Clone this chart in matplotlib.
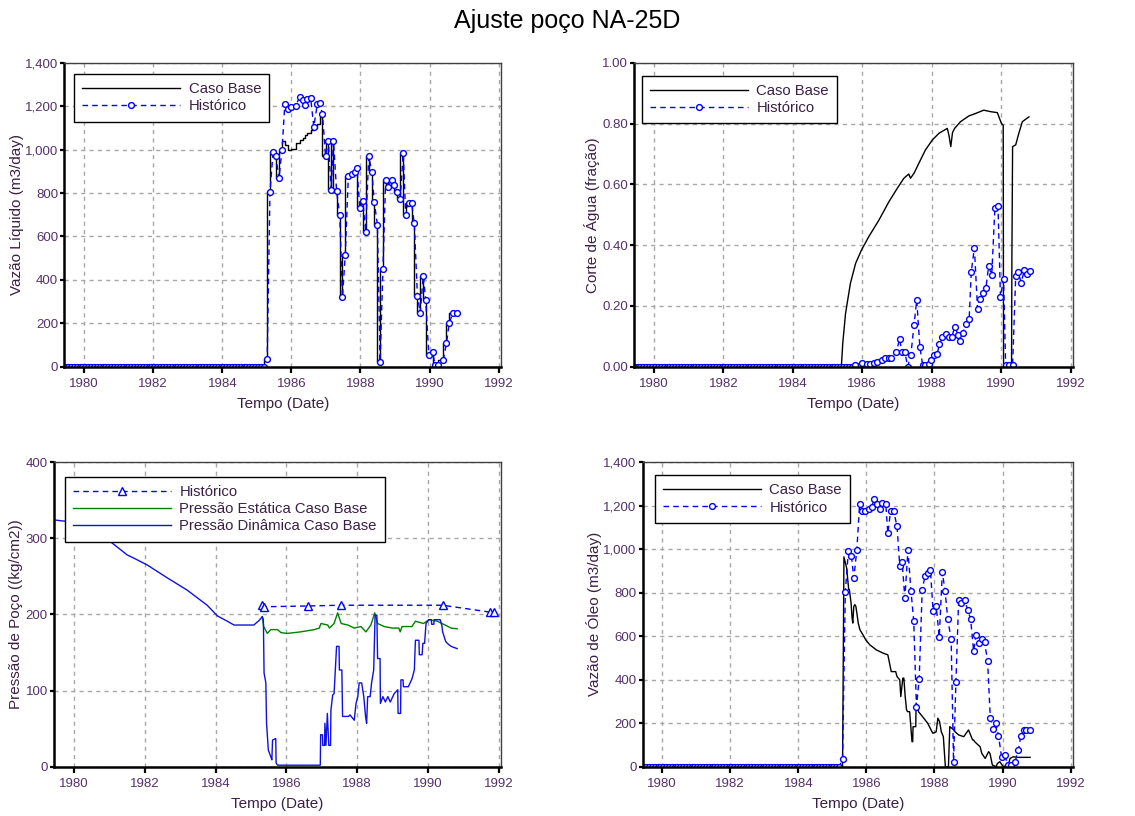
import numpy as np
import matplotlib.pyplot as plt
from matplotlib.ticker import FuncFormatter, MultipleLocator

plt.rcParams['font.family'] = ['Liberation Sans', 'DejaVu Sans']

# periodo sem producao (poco fechado)
shut_t = np.arange(1979.45, 1985.26, 1 / 12)
shut_v = np.zeros(len(shut_t))

# Vazao de liquido (m3/day)
liq_t = [1985.30, 1985.38, 1985.47, 1985.55, 1985.64, 1985.73, 1985.81, 1985.90, 1986.00, 1986.12,
         1986.25, 1986.34, 1986.39, 1986.46, 1986.56, 1986.65, 1986.75, 1986.82, 1986.90, 1986.99,
         1987.07, 1987.15, 1987.22, 1987.31, 1987.40, 1987.48, 1987.56, 1987.65, 1987.75, 1987.83,
         1987.90, 1987.98, 1988.07, 1988.15, 1988.24, 1988.33, 1988.40, 1988.49, 1988.57, 1988.65,
         1988.73, 1988.81, 1988.90, 1988.98, 1989.07, 1989.15, 1989.24, 1989.31, 1989.40, 1989.48,
         1989.56, 1989.65, 1989.73, 1989.82, 1989.89, 1989.98, 1990.09, 1990.16, 1990.26, 1990.40,
         1990.49, 1990.57, 1990.67, 1990.81]
liq_hist = [34, 803, 990, 970, 867, 1000, 1208, 1185, 1194, 1202,
            1243, 1228, 1205, 1233, 1236, 1105, 1208, 1216, 1164, 970,
            1041, 813, 1041, 807, 700, 319, 513, 878, 887, 895,
            917, 729, 763, 622, 970, 897, 760, 655, 23, 450,
            860, 829, 860, 837, 806, 771, 983, 699, 755, 752,
            660, 327, 249, 419, 307, 54, 69, 8, 8, 31,
            107, 200, 246, 246]
liq_base = [34, 803, 990, 970, 867, 1000, 1040, 1020, 1000, 1005,
            1030, 1045, 1055, 1065, 1075, 1090, 1100, 1120, 1150, 970,
            1041, 813, 1041, 807, 700, 319, 513, 878, 887, 895,
            917, 729, 763, 622, 970, 897, 760, 655, 23, 450,
            860, 829, 860, 837, 806, 771, 983, 699, 755, 752,
            660, 327, 249, 419, 307, 54, 69, 8, 8, 31,
            107, 200, 246, 246]

# Corte de agua (fracao)
wc_zero_t = np.arange(1979.45, 1985.72, 1 / 12)
wc_t = [1985.78, 1986.00, 1986.13, 1986.22, 1986.34, 1986.44, 1986.56, 1986.67, 1986.76, 1986.83,
        1986.98, 1987.08, 1987.14, 1987.23, 1987.31, 1987.40, 1987.49, 1987.57, 1987.66, 1987.74,
        1987.82, 1987.91, 1987.97, 1988.07, 1988.16, 1988.22, 1988.31, 1988.40, 1988.49, 1988.58,
        1988.67, 1988.76, 1988.83, 1988.89, 1989.00, 1989.08, 1989.14, 1989.23, 1989.32, 1989.38,
        1989.47, 1989.56, 1989.64, 1989.73, 1989.82, 1989.91, 1989.98, 1990.07, 1990.13, 1990.22,
        1990.33, 1990.42, 1990.49, 1990.58, 1990.67, 1990.74, 1990.83]
wc_hist = [0.004, 0.013, 0.010, 0.010, 0.013, 0.017, 0.021, 0.028, 0.028, 0.028,
           0.047, 0.092, 0.047, 0.047, 0.0, 0.038, 0.136, 0.219, 0.066, 0.006,
           0.006, 0.010, 0.021, 0.039, 0.041, 0.074, 0.097, 0.108, 0.099, 0.099,
           0.132, 0.104, 0.086, 0.110, 0.139, 0.158, 0.312, 0.391, 0.191, 0.224,
           0.241, 0.258, 0.330, 0.302, 0.521, 0.530, 0.230, 0.288, 0.006, 0.006,
           0.006, 0.299, 0.310, 0.277, 0.319, 0.304, 0.316]
wc_base_t = [1979.43, 1985.40, 1985.44, 1985.52, 1985.66, 1985.81, 1985.98, 1986.19, 1986.48, 1986.77,
             1987.01, 1987.20, 1987.34, 1987.39, 1987.49, 1987.63, 1987.82, 1988.02, 1988.21, 1988.45,
             1988.50, 1988.55, 1988.60, 1988.66, 1988.83, 1989.07, 1989.26, 1989.50, 1989.70, 1989.89,
             1990.01, 1990.06, 1990.07, 1990.30, 1990.31, 1990.33, 1990.42, 1990.51, 1990.61, 1990.80]
wc_base = [0.0, 0.0, 0.077, 0.175, 0.274, 0.340, 0.384, 0.428, 0.482, 0.543,
           0.587, 0.620, 0.634, 0.620, 0.636, 0.669, 0.713, 0.746, 0.768, 0.784,
           0.760, 0.724, 0.770, 0.784, 0.806, 0.825, 0.833, 0.844, 0.839, 0.836,
           0.800, 0.795, 0.0, 0.0, 0.362, 0.724, 0.730, 0.768, 0.806, 0.822]

# Pressao de poco (kg/cm2)
p_hist_t = [1985.30, 1985.37, 1986.60, 1987.54, 1990.42, 1991.75, 1991.87]
p_hist = [212, 210, 211, 212, 212, 203, 203]
p_est_t = [1985.32, 1985.36, 1985.46, 1985.56, 1985.75, 1985.85, 1986.03, 1986.40, 1986.79, 1986.93,
           1986.98, 1987.17, 1987.22, 1987.35, 1987.45, 1987.55, 1987.74, 1987.92, 1988.11, 1988.25,
           1988.39, 1988.50, 1988.58, 1988.77, 1989.00, 1989.18, 1989.22, 1989.27, 1989.55, 1989.65,
           1989.88, 1990.03, 1990.27, 1990.49, 1990.66, 1990.83]
p_est = [197, 184, 175, 180, 180, 176, 175, 177, 180, 182,
         188, 186, 182, 188, 202, 188, 186, 182, 184, 177,
         186, 202, 188, 184, 182, 182, 177, 184, 184, 191,
         188, 193, 191, 186, 182, 181]
p_din_t = [1979.43, 1979.79, 1980.90, 1981.20, 1981.50, 1981.68, 1982.06, 1982.63, 1983.19, 1983.76,
           1984.05, 1984.33, 1984.52, 1985.08, 1985.23, 1985.32, 1985.35, 1985.37, 1985.42, 1985.44,
           1985.49, 1985.56, 1985.59, 1985.61, 1985.70, 1985.71, 1985.75, 1986.96, 1986.97, 1987.02,
           1987.03, 1987.08, 1987.09, 1987.12, 1987.16, 1987.20, 1987.25, 1987.26, 1987.31, 1987.35,
           1987.42, 1987.49, 1987.50, 1987.57, 1987.59, 1987.76, 1987.80, 1987.92, 1987.97, 1988.02,
           1988.06, 1988.13, 1988.19, 1988.24, 1988.27, 1988.30, 1988.37, 1988.41, 1988.47, 1988.51,
           1988.56, 1988.58, 1988.65, 1988.66, 1988.73, 1988.80, 1988.87, 1988.94, 1989.05, 1989.15,
           1989.16, 1989.23, 1989.24, 1989.30, 1989.31, 1989.45, 1989.55, 1989.62, 1989.65, 1989.75,
           1989.76, 1989.84, 1989.86, 1989.91, 1989.95, 1990.03, 1990.10, 1990.11, 1990.17, 1990.18,
           1990.35, 1990.40, 1990.42, 1990.51, 1990.60, 1990.66, 1990.83]
p_din = [324, 322, 300, 289, 278, 274, 265, 248, 232, 212,
         198, 191, 186, 186, 192, 197, 193, 123, 110, 57,
         22, 13, 9, 35, 37, 5, 2, 2, 42, 42,
         28, 28, 57, 28, 70, 28, 28, 74, 94, 96,
         158, 158, 127, 127, 66, 66, 68, 61, 83, 92,
         110, 110, 92, 66, 57, 92, 92, 110, 127, 199,
         199, 142, 142, 83, 92, 85, 92, 85, 96, 101,
         70, 70, 114, 114, 105, 105, 115, 127, 166, 166,
         147, 147, 162, 162, 188, 193, 193, 187, 187, 193,
         193, 185, 177, 164, 160, 158, 155]

# Vazao de oleo (m3/day)
oil_t = [1985.30, 1985.38, 1985.47, 1985.56, 1985.63, 1985.72, 1985.80, 1985.88, 1985.97, 1986.08,
         1986.15, 1986.23, 1986.31, 1986.40, 1986.46, 1986.57, 1986.63, 1986.71, 1986.80, 1986.90,
         1986.98, 1987.05, 1987.13, 1987.22, 1987.31, 1987.39, 1987.47, 1987.55, 1987.64, 1987.72,
         1987.80, 1987.88, 1987.96, 1988.05, 1988.14, 1988.23, 1988.31, 1988.39, 1988.49, 1988.56,
         1988.63, 1988.71, 1988.79, 1988.89, 1988.98, 1989.06, 1989.15, 1989.22, 1989.30, 1989.39,
         1989.47, 1989.56, 1989.64, 1989.73, 1989.80, 1989.88, 1989.97, 1990.07, 1990.15, 1990.24,
         1990.37, 1990.46, 1990.54, 1990.62, 1990.70, 1990.81]
oil_hist = [34, 801, 990, 970, 866, 998, 1205, 1174, 1174, 1185,
            1194, 1228, 1205, 1182, 1210, 1205, 1072, 1174, 1174, 1105,
            921, 939, 775, 995, 806, 671, 276, 402, 814, 875,
            890, 906, 714, 737, 596, 893, 809, 678, 586, 23,
            388, 767, 752, 764, 718, 680, 531, 603, 568, 588,
            571, 488, 223, 173, 203, 143, 46, 54, 8, 8,
            23, 77, 141, 169, 169, 169]
oil_base_t = [1979.43, 1985.30, 1985.34, 1985.42, 1985.48, 1985.50, 1985.55, 1985.58, 1985.60, 1985.63,
              1985.66, 1985.69, 1985.72, 1985.76, 1985.81, 1985.90, 1985.98, 1986.10, 1986.29, 1986.49,
              1986.63, 1986.73, 1986.86, 1986.90, 1986.98, 1987.01, 1987.07, 1987.10, 1987.14, 1987.18,
              1987.21, 1987.27, 1987.34, 1987.36, 1987.37, 1987.45, 1987.46, 1987.51, 1987.53, 1987.65,
              1987.80, 1987.90, 1987.95, 1988.05, 1988.10, 1988.15, 1988.20, 1988.26, 1988.32, 1988.41,
              1988.45, 1988.57, 1988.60, 1988.71, 1988.86, 1989.00, 1989.12, 1989.15, 1989.18, 1989.34,
              1989.39, 1989.49, 1989.59, 1989.63, 1989.70, 1989.81, 1989.85, 1989.92, 1990.02, 1990.17,
              1990.22, 1990.32, 1990.42, 1990.51, 1990.81]
oil_base = [0, 0, 964, 913, 814, 814, 752, 683, 660, 737,
            745, 737, 706, 660, 629, 606, 583, 560, 537, 522,
            514, 437, 437, 414, 399, 322, 407, 407, 322, 261,
            253, 253, 115, 115, 184, 184, 292, 276, 253, 230,
            200, 169, 154, 160, 223, 207, 161, 138, 0, 0,
            184, 169, 161, 146, 138, 169, 123, 123, 115, 92,
            61, 38, 69, 61, 8, 0, 15, 23, 0, 8,
            38, 46, 43, 43, 43]

years = [1980, 1982, 1984, 1986, 1988, 1990, 1992]
xlim = (1979.43, 1992.07)

BLUE = '#0000ff'
DASH = (0, (4, 3))
TXT = '#3a2045'

fig = plt.figure(figsize=(11.35, 8.16), dpi=100)
fig.text(0.5, 0.974, 'Ajuste poço NA-25D', ha='center', va='center', fontsize=18)


def style(ax, ylim, ystep, fmt):
    ax.set_xlim(*xlim)
    ax.set_ylim(*ylim)
    ax.set_xticks(years)
    ax.yaxis.set_major_locator(MultipleLocator(ystep))
    ax.yaxis.set_major_formatter(FuncFormatter(fmt))
    ax.grid(True, color='#a8a8a8', linestyle=(0, (3, 3)), linewidth=1)
    ax.set_axisbelow(True)
    for s in ['left', 'bottom']:
        ax.spines[s].set_linewidth(1.8)
        ax.spines[s].set_color('black')
    for s in ['top', 'right']:
        ax.spines[s].set_linewidth(1.0)
        ax.spines[s].set_color('#404040')
    ax.tick_params(axis='x', direction='out', length=4, width=1.6, labelsize=9.5,
                   labelcolor='#55306a', pad=4)
    ax.tick_params(axis='y', direction='out', length=3, width=1.6, labelsize=9.5,
                   labelcolor='#55306a', pad=1.5)
    ax.set_xlabel('Tempo (Date)', fontsize=11, color=TXT, labelpad=5)


def legend(ax, x, y):
    leg = ax.legend(loc='upper left', bbox_to_anchor=(x, y), borderaxespad=0,
                    fontsize=10.7, handlelength=6.6, handletextpad=0.55, labelspacing=0.22,
                    numpoints=1, fancybox=False, framealpha=1, edgecolor='black',
                    borderpad=0.55)
    leg.get_frame().set_linewidth(1.0)
    for t in leg.get_texts():
        t.set_color(TXT)


comma = lambda v, p: f'{v:,.0f}'
hist_kw = dict(color=BLUE, linestyle=DASH, linewidth=1, marker='o', markersize=4.2,
               markerfacecolor='white', markeredgecolor=BLUE, markeredgewidth=1)

# painel 1 - vazao de liquido
ax1 = fig.add_axes([0.0568, 0.5506, 0.3846, 0.3725])
ax1.plot(np.r_[shut_t, liq_t], np.r_[shut_v, liq_base], color='black', linewidth=1,
         drawstyle='steps-pre', label='Caso Base')
ax1.plot(np.r_[shut_t, liq_t], np.r_[shut_v, liq_hist], label='Histórico', **hist_kw)
style(ax1, (0, 1400), 200, comma)
ax1.set_ylabel('Vazão Líquido (m3/day)', fontsize=11, color=TXT, labelpad=1)
legend(ax1, 0.022, 0.963)

# painel 2 - corte de agua
ax2 = fig.add_axes([0.5586, 0.5506, 0.3868, 0.3725])
ax2.plot(wc_base_t, wc_base, color='black', linewidth=1, label='Caso Base')
ax2.plot(np.r_[wc_zero_t, wc_t], np.r_[np.zeros(len(wc_zero_t)), wc_hist],
         label='Histórico', **hist_kw)
style(ax2, (0, 1.0), 0.2, lambda v, p: f'{v:.2f}')
ax2.set_ylabel('Corte de Água (fração)', fontsize=11, color=TXT, labelpad=1)
legend(ax2, 0.018, 0.957)

# painel 3 - pressao
ax3 = fig.add_axes([0.0476, 0.0604, 0.3938, 0.3734])
ax3.plot(p_hist_t, p_hist, color=BLUE, linestyle=DASH, linewidth=1, marker='^',
         markersize=5.5, markerfacecolor='white', markeredgecolor=BLUE, markeredgewidth=1,
         label='Histórico')
ax3.plot(p_est_t, p_est, color='#008000', linewidth=1, label='Pressão Estática Caso Base')
ax3.plot(p_din_t, p_din, color='#1010e0', linewidth=1, label='Pressão Dinâmica Caso Base')
style(ax3, (0, 400), 100, lambda v, p: f'{v:.0f}')
ax3.set_ylabel('Pressão de Poço ((kg/cm2))', fontsize=11, color=TXT, labelpad=2)
legend(ax3, 0.0246, 0.952)

# painel 4 - vazao de oleo
ax4 = fig.add_axes([0.5663, 0.0604, 0.3791, 0.3734])
ax4.plot(oil_base_t, oil_base, color='black', linewidth=1, label='Caso Base')
ax4.plot(np.r_[shut_t, oil_t], np.r_[shut_v, oil_hist], label='Histórico', **hist_kw)
style(ax4, (0, 1400), 200, comma)
ax4.set_ylabel('Vazão de Óleo (m3/day)', fontsize=11, color=TXT, labelpad=1)
legend(ax4, 0.0286, 0.957)

fig.savefig('out.png', dpi=100)
